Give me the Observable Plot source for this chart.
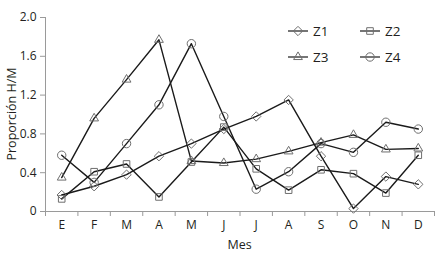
<!DOCTYPE html>
<html><head><meta charset="utf-8">
<script src="https://cdn.jsdelivr.net/npm/d3@7"></script>
<script src="https://cdn.jsdelivr.net/npm/@observablehq/plot@0.6"></script>
<style>body{margin:0;background:#fff} #chart{width:446px;height:259px}</style>
</head><body><div id="chart"></div>
<script>
const months = ["E","F","M","A","M","J","J","A","S","O","N","D"];
const series = ["Z1","Z2","Z3","Z4"];
const z1 = [0.17,0.26,0.38,0.57,0.70,0.85,0.98,1.15,0.57,0.03,0.36,0.28];
const z2 = [0.13,0.41,0.49,0.15,0.51,0.87,0.44,0.22,0.43,0.39,0.19,0.58];
const z3 = [0.35,0.96,1.36,1.77,0.52,0.50,0.54,0.62,0.71,0.79,0.64,0.65];
const z4 = [0.58,0.30,0.70,1.10,1.73,0.98,0.23,0.41,0.70,0.61,0.92,0.85];
const yTicks = [0,0.4,0.8,1.2,1.6,2.0];
const xLabel = "Mes";
const yLabel = "Proporción H/M";
const symbolNames = ["diamond2","square2","triangle2","circle"];

const values = [z1,z2,z3,z4];
const data = [];
series.forEach((s,k)=>values[k].forEach((v,i)=>data.push({series:s, x:i+0.5, y:v})));

const textColor = "#231f20";
const axisGray = "#9a9a9a";
const lineColor = "#1a1a1a";
const markGray = "#6e6e6e";
const font = "'Open Sans', sans-serif";

const plot = Plot.plot({
  width:446, height:259,
  marginLeft:45, marginRight:12, marginTop:17, marginBottom:48,
  style:{fontFamily:font, fontSize:"12px", color:textColor, background:"#fff"},
  x:{domain:[0,12], axis:null},
  y:{domain:[0,2], axis:null},
  symbol:{domain:series, range:symbolNames},
  marks:[
    Plot.ruleY([0], {stroke:axisGray}),
    Plot.ruleX([0], {stroke:axisGray}),
    Plot.axisX(d3.range(13), {tickSize:5, tickFormat:()=>"", stroke:axisGray, label:null}),
    Plot.axisX(d3.range(12).map(i=>i+0.5), {tickSize:0, tickPadding:9, tickFormat:d=>months[Math.floor(d)], label:null, fill:textColor}),
    Plot.axisY(yTicks, {tickSize:5, tickPadding:4, tickFormat:d=>d===0?"0":d.toFixed(1), stroke:axisGray, fill:textColor, label:null}),
    Plot.line(data, {x:"x", y:"y", z:"series", stroke:lineColor, strokeWidth:1.4}),
    Plot.dot(data, {x:"x", y:"y", symbol:"series", stroke:markGray, fill:"none", strokeWidth:1, r:4.2})
  ]
});

const svg = d3.select(plot);
// axis titles
svg.append("text").attr("x",239.5).attr("y",245).attr("dy","0.35em").attr("text-anchor","middle")
  .attr("font-family",font).attr("font-size","12.5px").attr("fill",textColor).text(xLabel);
svg.append("text").attr("transform","translate(12,114) rotate(-90)").attr("dy","0.35em").attr("text-anchor","middle")
  .attr("font-family",font).attr("font-size","12.5px").attr("fill",textColor).text(yLabel);

// legend
const legendPos = [[298,31],[370,31],[298,57],[370,57]];
const d3Symbols = [d3.symbolDiamond2, d3.symbolSquare2, d3.symbolTriangle2, d3.symbolCircle];
const lg = svg.append("g").attr("font-family",font).attr("font-size","13.5px").attr("text-anchor","start");
series.forEach((s,k)=>{
  const [cx,cy] = legendPos[k];
  const g = lg.append("g").attr("transform",`translate(${cx},${cy})`);
  g.append("line").attr("x1",-10).attr("x2",10).attr("stroke",lineColor).attr("stroke-width",1.2);
  g.append("path").attr("d", d3.symbol(d3Symbols[k], Math.PI*4.2*4.2)()).attr("fill","none").attr("stroke",markGray);
  g.append("text").attr("x",15).attr("dy","0.35em").attr("fill",textColor).text(s);
});

document.getElementById("chart").appendChild(plot);
</script>
</body></html>
